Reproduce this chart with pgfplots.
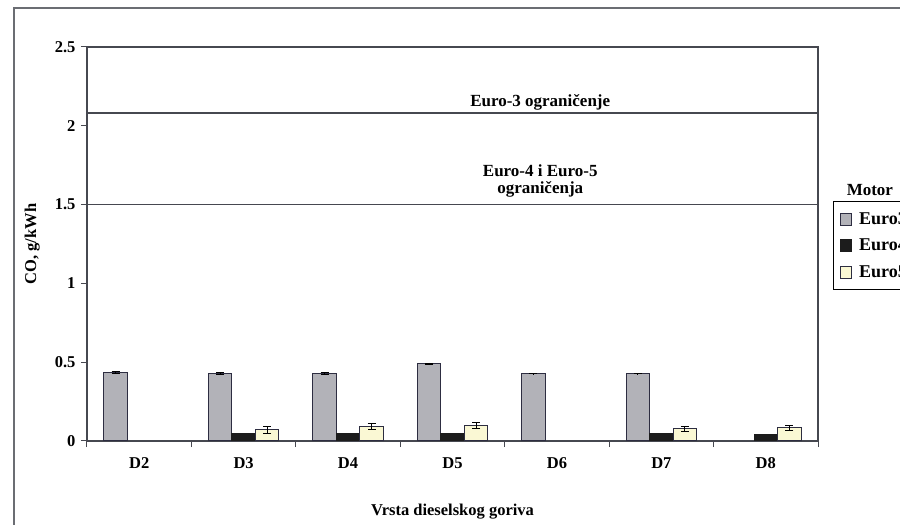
\documentclass[border=0pt]{standalone}
\usepackage{pgfplots}
\pgfplotsset{compat=1.18}
\usepackage{fontspec}
\setmainfont{Liberation Serif}
\definecolor{barGray}{RGB}{178,178,184}
\definecolor{barEdge}{RGB}{45,45,65}
\definecolor{barBlack}{RGB}{28,28,28}
\definecolor{barYellow}{RGB}{250,248,212}
\definecolor{lineCol}{RGB}{70,72,80}
\begin{document}
\begin{tikzpicture}[x=1pt,y=1pt]
\useasboundingbox (0,0) rectangle (900,525);
\draw[lineCol!80, line width=1.2pt] (14,-20) rectangle (930,517);
\begin{axis}[
  at={(87pt,84pt)}, anchor=south west,
  scale only axis, width=731pt, height=394pt,
  clip=false,
  ybar=0pt, bar width=23.5pt,
  xmin=-0.5, xmax=6.5, ymin=0, ymax=2.5,
  ytick={0,0.5,1,1.5,2,2.5},
  xtick={0,1,2,3,4,5,6},
  xticklabels={D2,D3,D4,D5,D6,D7,D8},
  minor xtick={-0.5,0.5,1.5,2.5,3.5,4.5,5.5,6.5},
  major x tick style={draw=none},
  tick align=outside, tick pos=left,
  major tick length=6pt, minor tick length=6pt,
  every tick/.style={lineCol, line width=1pt},
  axis line style={lineCol, line width=1.3pt},
  extra y ticks={1.5,2.08},
  extra y tick labels={},
  extra y tick style={grid=major, major tick length=0pt,
     major grid style={lineCol, line width=1.7pt}},
  /pgf/number format/assume math mode=true,
  tick label style={font=\fontsize{16.5}{18}\selectfont\bfseries},
  yticklabel style={xshift=-2pt},
  xticklabel style={yshift=-7pt},
  xlabel={Vrsta dieselskog goriva},
  ylabel={CO, g/kWh},
  label style={font=\fontsize{16.5}{18}\selectfont\bfseries},
  xlabel style={at={(axis description cs:0.5,-0.178)}, anchor=center},
  ylabel style={at={(axis description cs:-0.075,0.5)}, anchor=center},
  legend style={at={(rel axis cs:1.0205,0.6091)}, anchor=north west,
    draw=black, line width=1.1pt, font=\fontsize{18}{20}\selectfont\bfseries,
    row sep=9pt, column sep=6pt, inner xsep=6pt, inner ysep=9pt},
  legend cell align=left,
  legend image code/.code={\draw[#1, line width=0.6pt] (0pt,-6pt) rectangle (11pt,6pt);},
  error bars/error bar style={black, line width=0.8pt},
  error bars/error mark options={rotate=90, mark size=4pt, line width=0.8pt},
]
\addplot[fill=barGray, draw=barEdge, line width=1pt,
  error bars/.cd, y dir=both, y explicit]
  coordinates {(0,0.435) +- (0,0.005) (1,0.428) +- (0,0.005) (2,0.428) +- (0,0.005) (3,0.49) +- (0,0.005) (4,0.428) +- (0,0.002) (5,0.428) +- (0,0.002)};
\addlegendentry{Euro3}
\addplot[fill=barBlack, draw=barBlack, line width=1pt]
  coordinates {(1,0.05) (2,0.05) (3,0.05) (5,0.05) (6,0.04)};
\addlegendentry{Euro4}
\addplot[fill=barYellow, draw=barEdge, line width=1pt,
  error bars/.cd, y dir=both, y explicit]
  coordinates {(1,0.07) +- (0,0.02) (2,0.093) +- (0,0.018) (3,0.097) +- (0,0.018) (5,0.077) +- (0,0.015) (6,0.085) +- (0,0.015)};
\addlegendentry{Euro5}
\node[font=\fontsize{17}{19}\selectfont\bfseries] at (axis cs:3.84,2.15) {Euro-3 ograničenje};
\node[font=\fontsize{17}{19}\selectfont\bfseries, align=center, anchor=south, inner sep=2pt] at (axis cs:3.84,1.535) {Euro-4 i Euro-5\\[-2pt]ograničenja};
\node[font=\fontsize{17}{19}\selectfont\bfseries] at (rel axis cs:1.071,0.637) {Motor};
\end{axis}
\end{tikzpicture}
\end{document}
